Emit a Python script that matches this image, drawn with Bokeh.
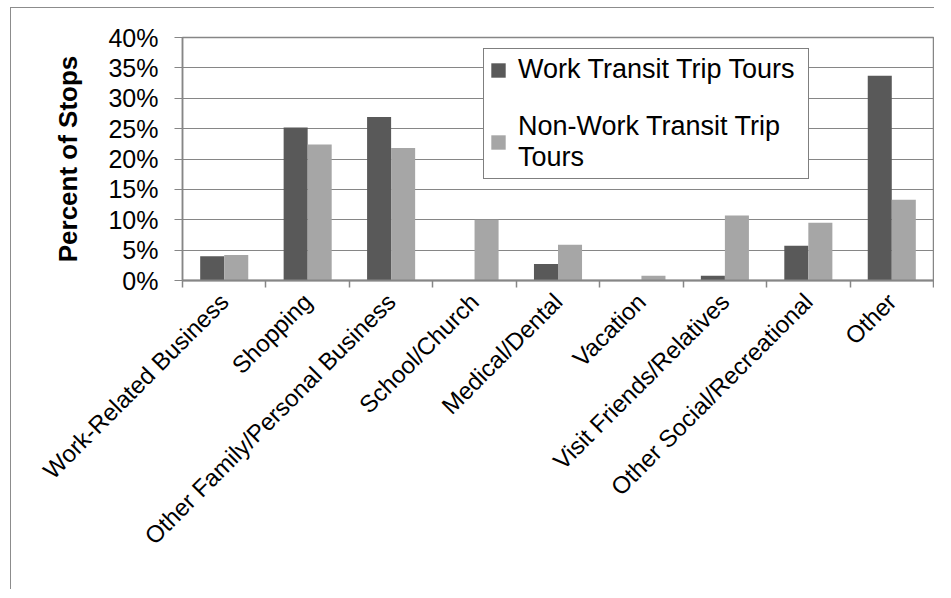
import math
from bokeh.plotting import figure
from bokeh.models import (ColumnDataSource, FixedTicker, NumeralTickFormatter,
                          Legend, LegendItem, Range1d)
from bokeh.transform import dodge
from bokeh.embed import file_html
from bokeh.resources import INLINE

# ---- data ----
categories = ["Work-Related Business", "Shopping", "Other Family/Personal Business",
              "School/Church", "Medical/Dental", "Vacation",
              "Visit Friends/Relatives", "Other Social/Recreational", "Other"]
work_pct = [0.040, 0.252, 0.269, 0.000, 0.027, 0.000, 0.008, 0.057, 0.337]
nonwork_pct = [0.042, 0.224, 0.218, 0.100, 0.059, 0.008, 0.107, 0.095, 0.133]
series_names = ["Work Transit Trip Tours", "Non-Work Transit Trip\nTours"]
y_ticks = [0.0, 0.05, 0.10, 0.15, 0.20, 0.25, 0.30, 0.35, 0.40]
y_label = "Percent of Stops"

positions = list(range(1, len(categories) + 1))
source = ColumnDataSource(dict(x=positions, cat=categories, work=work_pct, nonwork=nonwork_pct))

FONT = "Liberation Sans"
GRAY = "#868686"
DARK = "#595959"
LIGHT = "#a6a6a6"

p = figure(width=924, height=582, output_backend="svg", toolbar_location=None,
           x_range=Range1d(0.5, len(categories) + 0.5), y_range=Range1d(0, 0.40),
           min_border_left=171, min_border_right=2, min_border_top=29,
           min_border_bottom=310,
           styles={"border-left": "1px solid #8c8c8c", "border-top": "1px solid #8c8c8c",
                   "margin-left": "10px", "margin-top": "7px"})

bw = 0.288
r1 = p.vbar(x=dodge("x", -bw / 2), top="work", width=bw, source=source,
            fill_color=DARK, line_color=None)
r2 = p.vbar(x=dodge("x", bw / 2), top="nonwork", width=bw, source=source,
            fill_color=LIGHT, line_color=None)

# frame / grid
p.outline_line_color = GRAY
p.outline_line_width = 1.5
p.xgrid.grid_line_color = None
p.ygrid.grid_line_color = GRAY
p.ygrid.grid_line_width = 1.2
p.ygrid.ticker = FixedTicker(ticks=y_ticks)

# y axis
ya = p.yaxis[0]
ya.ticker = FixedTicker(ticks=y_ticks)
ya.formatter = NumeralTickFormatter(format="0%")
ya.axis_line_color = GRAY
ya.axis_line_width = 1.5
ya.major_tick_line_color = GRAY
ya.major_tick_line_width = 1.2
ya.major_tick_in = 0
ya.major_tick_out = 8
ya.minor_tick_line_color = None
ya.major_label_text_font = FONT
ya.major_label_text_font_size = "25px"
ya.major_label_text_color = "black"
ya.major_label_standoff = 16
ya.axis_label = y_label
ya.axis_label_text_font = FONT
ya.axis_label_text_font_size = "26px"
ya.axis_label_text_font_style = "bold"
ya.axis_label_text_color = "black"
ya.axis_label_standoff = 22

# x axis (labels at category centres, ticks between categories)
xa = p.xaxis[0]
xa.ticker = FixedTicker(ticks=positions,
                        minor_ticks=[i + 0.5 for i in range(len(categories) + 1)])
xa.major_label_overrides = {pos: cat for pos, cat in zip(positions, categories)}
xa.axis_line_color = GRAY
xa.axis_line_width = 2
xa.major_tick_line_color = None
xa.major_tick_in = 0
xa.major_tick_out = 7
xa.minor_tick_line_color = GRAY
xa.minor_tick_line_width = 1.5
xa.minor_tick_in = 0
xa.minor_tick_out = 7
xa.major_label_orientation = math.pi / 4
xa.major_label_text_font = FONT
xa.major_label_text_font_size = "24px"
xa.major_label_text_color = "black"
xa.major_label_standoff = 10

legend = Legend(items=[LegendItem(label=series_names[0], renderers=[r1]),
                       LegendItem(label=series_names[1], renderers=[r2])],
                location=(301, 101), orientation="vertical",
                padding=5, spacing=26, margin=0,
                glyph_width=18, glyph_height=18, label_standoff=11, label_width=285,
                label_text_font=FONT, label_text_font_size="27px",
                label_text_line_height=1.1, label_text_color="black",
                border_line_color="black", border_line_width=1.5,
                background_fill_color="white", background_fill_alpha=1.0)
p.add_layout(legend, "center")

open("out.html", "w").write(file_html(p, INLINE))
